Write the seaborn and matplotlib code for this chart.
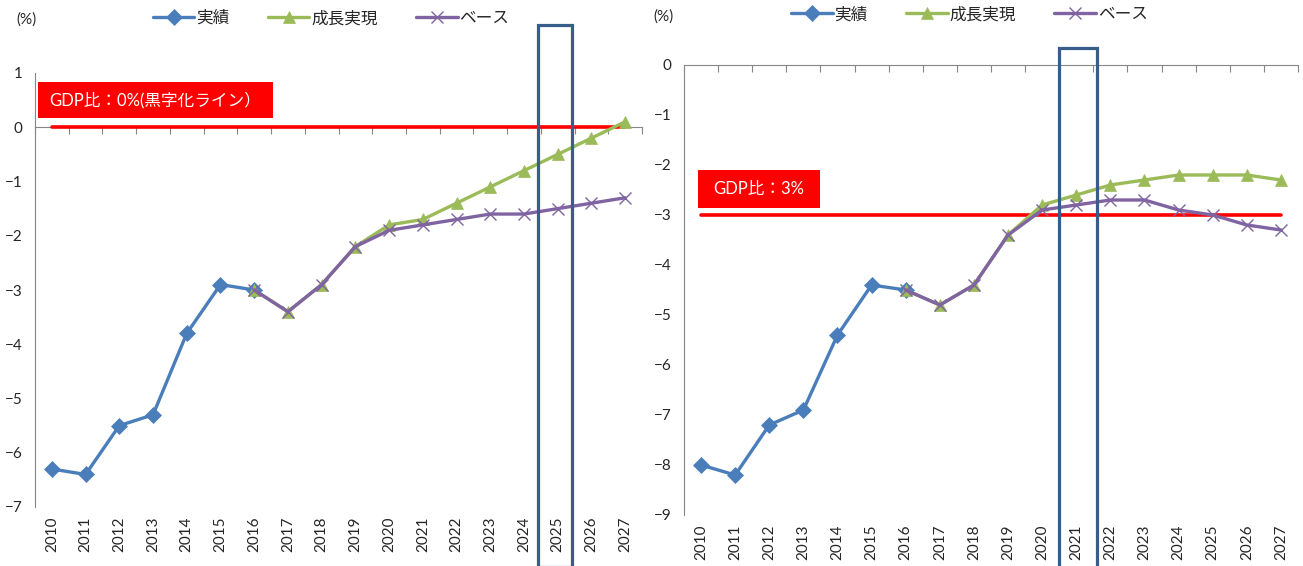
import numpy as np
import pandas as pd
import matplotlib
matplotlib.use("Agg")
import matplotlib.pyplot as plt
from matplotlib.patches import Rectangle
import seaborn as sns

sns.set_style("white")
plt.rcParams["font.family"] = ["Lato", "Noto Sans CJK JP", "DejaVu Sans"]

years = [str(y) for y in range(2010, 2028)]
actual_years = years[:7]          # 2010-2016
proj_years = years[6:]            # 2016-2027

# left panel (primary balance, % of GDP)
left_actual = [-6.3, -6.4, -5.5, -5.3, -3.8, -2.9, -3.0]
left_growth = [-3.0, -3.4, -2.9, -2.2, -1.8, -1.7, -1.4, -1.1, -0.8, -0.5, -0.2, 0.1]
left_base = [-3.0, -3.4, -2.9, -2.2, -1.9, -1.8, -1.7, -1.6, -1.6, -1.5, -1.4, -1.3]
left_target = 0
left_highlight = "2025"
left_label = "GDP比：0%(黒字化ライン）"

# right panel
right_actual = [-8.0, -8.2, -7.2, -6.9, -5.4, -4.4, -4.5]
right_growth = [-4.5, -4.8, -4.4, -3.4, -2.8, -2.6, -2.4, -2.3, -2.2, -2.2, -2.2, -2.3]
right_base = [-4.5, -4.8, -4.4, -3.4, -2.9, -2.8, -2.7, -2.7, -2.9, -3.0, -3.2, -3.3]
right_target = -3
right_highlight = "2021"
right_label = "GDP比：3%"

series_names = ["実績", "成長実現", "ベース"]
colors = ["#4A7EBB", "#9BBB59", "#8064A2"]
markers = ["D", "^", "x"]

fig = plt.figure(figsize=(13.03, 5.66), dpi=100)
W, H = 1303, 566


def px_axes(x0, x1, ytop, ybot):
    return fig.add_axes([x0 / W, (H - ybot) / H, (x1 - x0) / W, (ybot - ytop) / H])


def draw_panel(ax, actual, growth, base, target, highlight, label, ylim,
               rect, box, legend_x, legend_y):
    pos = {y: i for i, y in enumerate(years)}
    ax.set_xlim(-0.5, len(years) - 0.5)
    ax.set_ylim(*ylim)

    # target line
    sns.lineplot(x=[pos[years[0]], pos[years[-1]]], y=[target, target],
                 color="#FF0000", lw=2.6, ax=ax, legend=False)

    data = [(actual_years, actual), (proj_years, growth), (proj_years, base)]
    for (yrs, vals), name, c, m in zip(data, series_names, colors, markers):
        df = pd.DataFrame({"x": [pos[y] for y in yrs], "v": vals})
        sns.lineplot(data=df, x="x", y="v", color=c, lw=2.4, marker=m,
                     markersize=8, markeredgecolor=c,
                     markeredgewidth=1.0 if m == "x" else 0.5,
                     label=name, ax=ax, sort=False)

    # highlight box around a year
    hx = pos[highlight]
    dx0, dx1, rect_bot, rect_top = rect
    ax.add_patch(Rectangle((hx + dx0, rect_bot), dx1 - dx0, rect_top - rect_bot,
                           fill=False, edgecolor="#385D8A", lw=2.3,
                           clip_on=False, zorder=5))

    # label box
    bx0, bx1, by0, by1 = box
    ax.add_patch(Rectangle((bx0, by0), bx1 - bx0, by1 - by0,
                           transform=ax.transAxes, facecolor="#FF0000",
                           edgecolor="none", clip_on=False, zorder=4))
    ax.text((bx0 + bx1) / 2, (by0 + by1) / 2, label, transform=ax.transAxes,
            ha="center", va="center", color="white", fontsize=12, zorder=6)

    # axes styling
    for s in ["top", "right", "bottom"]:
        ax.spines[s].set_visible(False)
    ax.spines["left"].set_color("#868686")
    ax.set_yticks(np.arange(ylim[0], ylim[1] + 1, 1))
    ax.tick_params(axis="y", direction="out", length=4, color="#868686",
                   labelsize=11, pad=5)
    ax.set_xticks(range(len(years)))
    ax.set_xticklabels(years, rotation=90, fontsize=11)
    ax.tick_params(axis="x", length=0, pad=7)
    ax.set_xlabel("")
    ax.set_ylabel("")

    # category axis crossing at zero
    zero_loc = (0 - ylim[0]) / (ylim[1] - ylim[0])
    sec = ax.secondary_xaxis(zero_loc)
    sec.set_xticks(np.arange(-0.5, len(years), 1.0))
    sec.set_xticklabels([])
    sec.tick_params(direction="in", length=5, color="#868686")
    for s in sec.spines.values():
        s.set_color("#868686")

    ax.get_legend().remove()
    handles, labels = ax.get_legend_handles_labels()
    fig.legend(handles, labels, loc="center", ncol=3, frameon=False,
               bbox_to_anchor=(legend_x, legend_y), fontsize=12,
               handlelength=2.5, handletextpad=0.1, columnspacing=2.3,
               numpoints=1)


axL = px_axes(35, 642, 73, 507)
draw_panel(axL, left_actual, left_growth, left_base, left_target,
           left_highlight, left_label, (-7, 1), (-0.58, 0.42, -8.1, 1.885),
           (0.005, 0.392, 0.896, 0.979), 0.254, 0.968)

axR = px_axes(684, 1298, 65, 515)
draw_panel(axR, right_actual, right_growth, right_base, right_target,
           right_highlight, right_label, (-9, 0), (-0.5, 0.6, -10.5, 0.34),
           (0.0228, 0.2215, 0.682, 0.767), 0.744, 0.975)

fig.text(27 / W, 1 - 20 / H, "(%)", ha="center", va="center", fontsize=11)
fig.text(663 / W, 1 - 17 / H, "(%)", ha="center", va="center", fontsize=11)

fig.savefig("out.png", dpi=100)
